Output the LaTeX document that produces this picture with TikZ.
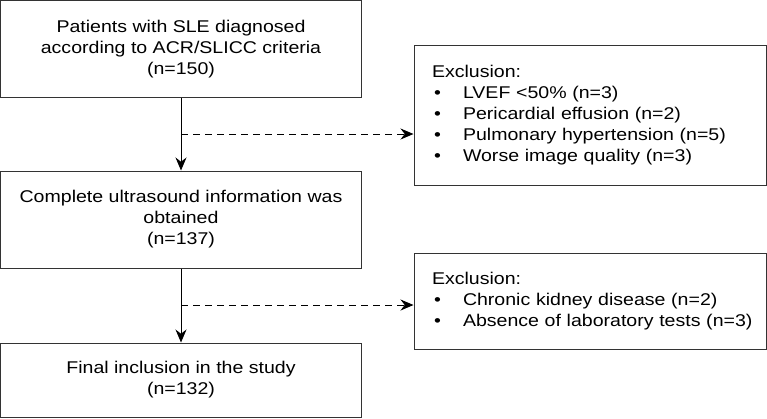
\documentclass[tikz,border=0pt]{standalone}
\usepackage{fontspec}
\setmainfont{Liberation Sans}[FakeStretch=1.15]
\usetikzlibrary{positioning,arrows.meta}

\newcommand{\bulletrow}[1]{\mbox{\makebox[31pt][l]{\hspace*{2pt}\textbullet}#1}}

\begin{document}
\begin{tikzpicture}[x=1pt,y=-1pt,>={Stealth[length=13pt,width=11pt]},
  every node/.style={font=\fontsize{17}{21}\selectfont},
  stagebox/.style={draw=black!80,line width=1pt,align=center,minimum width=361pt,inner sep=0pt},
  exclbox/.style={draw=black!80,line width=1pt,align=left,text width=316pt,inner xsep=18pt,inner ysep=0pt,minimum width=352pt}]

\useasboundingbox (0,0) rectangle (767,418);

\node [stagebox,minimum height=97pt] at (181,49) (p0) {Patients with SLE diagnosed\\according to ACR/SLICC criteria\\(n=150)};
\node [stagebox,minimum height=97pt] at (181,219.5) (p1) {Complete ultrasound information was\\obtained\\(n=137)};
\node [stagebox,minimum height=74pt] at (181,380) (p2) {Final inclusion in the study\\(n=132)};

\node [exclbox,minimum height=140pt] at (590,115) (e1) {Exclusion:\\
  \bulletrow{LVEF <50\% (n=3)}\\
  \bulletrow{Pericardial effusion (n=2)}\\
  \bulletrow{Pulmonary hypertension (n=5)}\\
  \bulletrow{Worse image quality (n=3)}};
\node [exclbox,minimum height=96pt] at (590,301) (e2) {Exclusion:\\
  \bulletrow{Chronic kidney disease (n=2)}\\
  \bulletrow{Absence of laboratory tests (n=3)}};

\coordinate (d0) at (181,134);
\coordinate (d1) at (181,305);

\draw[->,line width=1pt] (p0) -- (p1);
\draw[->,line width=1pt] (p1) -- (p2);
\draw[->,line width=1pt,dash pattern=on 7pt off 5pt] (d0) -- (d0 -| e1.west);
\draw[->,line width=1pt,dash pattern=on 7pt off 5pt] (d1) -- (d1 -| e2.west);

\end{tikzpicture}
\end{document}
